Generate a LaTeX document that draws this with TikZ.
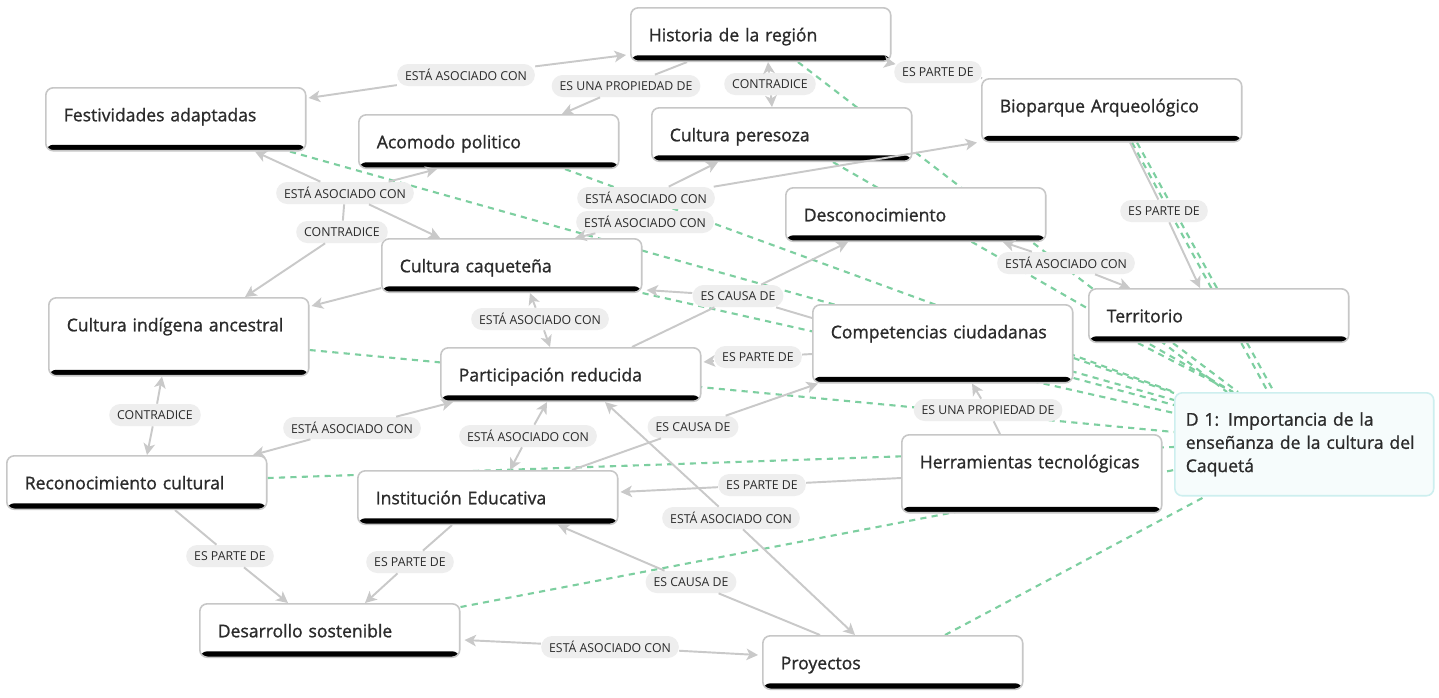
\documentclass[tikz,border=0pt]{standalone}
\usepackage{fontspec}
\setmainfont{Open Sans}
\newfontfamily\conceptfont{Open Sans}[FakeBold=1.1]
\usepackage{tikz}
\usetikzlibrary{positioning,arrows.meta,backgrounds}
\definecolor{linkgray}{HTML}{C9C9C9}
\definecolor{pillgray}{HTML}{EEEEEE}
\definecolor{hintgreen}{HTML}{7DCFA0}
\definecolor{inkgray}{HTML}{2B2B2B}
\definecolor{focusline}{HTML}{CDEFEF}
\definecolor{focusfill}{HTML}{F6FCFC}
\tikzset{
  basebox/.style={draw=black!22,line width=0.9pt,fill=white,rounded corners=0.15cm,anchor=north west,
    align=left,inner ysep=0pt,text=inkgray},
  concept/.style={basebox,text width=4.48cm,inner xsep=0.36cm,text height=0.67cm,text depth=0.4cm,
    font=\conceptfont\fontsize{10}{12}\selectfont,
    path picture={\fill[black] (path picture bounding box.south west) rectangle ([yshift=0.12cm]path picture bounding box.south east);}},
  midbox/.style={concept,text depth=0.59cm},
  tallbox/.style={concept,text depth=0.89cm},
  focus/.style={basebox,draw=focusline,fill=focusfill,text width=4.74cm,inner xsep=0.22cm,minimum height=2.06cm,
    font=\conceptfont\fontsize{10}{13.2}\selectfont},
  rel/.style={fill=pillgray,rounded corners=0.22cm,minimum height=0.44cm,inner xsep=0.16cm,inner ysep=0pt,
    font=\fontsize{7}{8}\selectfont,text=inkgray},
  link/.style={draw=linkgray,line width=1.1pt},
  linkto/.style={link,-{Stealth[length=2.3mm,width=2.3mm,inset=0.6mm]}},
  hint/.style={draw=hintgreen,line width=1.2pt,dash pattern=on 3.5pt off 3pt}
}
\begin{document}
\begin{tikzpicture}[x=0.02cm,y=-0.02cm]
\useasboundingbox (0,0) rectangle (1439,697);
\node[concept] (Historia) at (630,7) {Historia de la región};
\node[midbox] (Festividades) at (45,87) {Festividades adaptadas};
\node[concept] (Acomodo) at (358,114) {Acomodo politico};
\node[concept] (Peresoza) at (651,107) {Cultura peresoza};
\node[midbox] (Bioparque) at (981,78) {Bioparque Arqueológico};
\node[concept] (Desconocimiento) at (785,187) {Desconocimiento};
\node[concept] (Caquetena) at (381,238) {Cultura caqueteña};
\node[tallbox] (Indigena) at (48,297) {Cultura indígena ancestral};
\node[concept] (Territorio) at (1088,288) {Territorio};
\node[tallbox] (Competencias) at (812,304) {Competencias ciudadanas};
\node[concept] (Participacion) at (440,347) {Participación reducida};
\node[focus] (Importancia) at (1174,392) {D 1: Importancia de la\\enseñanza de la cultura del\\Caquetá};
\node[tallbox] (Herramientas) at (901,434) {Herramientas tecnológicas};
\node[concept] (Reconocimiento) at (6,455) {Reconocimiento cultural};
\node[concept] (Institucion) at (357,470) {Institución Educativa};
\node[concept] (Desarrollo) at (199,603) {Desarrollo sostenible};
\node[concept] (Proyectos) at (762,635) {Proyectos};

\node[rel] (asoc1) at (466,75) {ESTÁ ASOCIADO CON};
\node[rel] (prop1) at (626,86) {ES UNA PROPIEDAD DE};
\node[rel] (contra1) at (770,84) {CONTRADICE};
\node[rel] (parte1) at (938,72) {ES PARTE DE};
\node[rel] (asoc2) at (345,193) {ESTÁ ASOCIADO CON};
\node[rel] (contra2) at (342,232) {CONTRADICE};
\node[rel] (asoc3) at (646,198) {ESTÁ ASOCIADO CON};
\node[rel] (asoc4) at (645,222) {ESTÁ ASOCIADO CON};
\node[rel] (causa1) at (738,296) {ES CAUSA DE};
\node[rel] (asoc5) at (540,319) {ESTÁ ASOCIADO CON};
\node[rel] (parte2) at (758,357) {ES PARTE DE};
\node[rel] (prop2) at (988,410) {ES UNA PROPIEDAD DE};
\node[rel] (asoc6) at (352,428) {ESTÁ ASOCIADO CON};
\node[rel] (asoc7) at (528,436) {ESTÁ ASOCIADO CON};
\node[rel] (causa2) at (693,427) {ES CAUSA DE};
\node[rel] (asoc8) at (731,518) {ESTÁ ASOCIADO CON};
\node[rel] (parte3) at (762,485) {ES PARTE DE};
\node[rel] (causa3) at (691,582) {ES CAUSA DE};
\node[rel] (contra3) at (155,415) {CONTRADICE};
\node[rel] (parte4) at (230,556) {ES PARTE DE};
\node[rel] (parte5) at (410,562) {ES PARTE DE};
\node[rel] (asoc9) at (610,647) {ESTÁ ASOCIADO CON};
\node[rel] (parte6) at (1164,211) {ES PARTE DE};
\node[rel] (asoc10) at (1066,263) {ESTÁ ASOCIADO CON};

\draw[linkto] (asoc1) -- ([shift={(2,11)}]Festividades.north east);
\draw[linkto] (asoc1) -- ([shift={(-4,48)}]Historia.north west);
\draw[link] ([shift={(57,0)}]Historia.south west) -- (prop1);
\draw[linkto] (prop1) -- ([shift={(204,0)}]Acomodo.north west);
\draw[linkto] (contra1) -- ([shift={(138,0)}]Historia.south west);
\draw[linkto] (contra1) -- ([shift={(121,0)}]Peresoza.north west);
\draw[link] (Bioparque.north west) -- (parte1);
\draw[linkto] (parte1) -- ([shift={(4,2)}]Historia.south east);
\draw[linkto] (asoc2) -- ([shift={(210,0)}]Festividades.south west);
\draw[linkto] (asoc2) -- ([shift={(79,0)}]Acomodo.south west);
\draw[linkto] (asoc2) -- ([shift={(59,0)}]Caquetena.north west);
\draw[link] (asoc2) -- (contra2);
\draw[linkto] (contra2) -- ([shift={(197,0)}]Indigena.north west);
\draw[linkto] ([shift={(0,-5)}]Caquetena.south west) -- ([shift={(2,9)}]Indigena.north east);
\draw[linkto] (asoc3) -- ([shift={(67,0)}]Peresoza.south west);
\draw[linkto] (asoc3) -- ([shift={(-4,0)}]Bioparque.south west);
\draw[linkto] (asoc4) -- ([shift={(194,0)}]Caquetena.north west);
\draw[link] ([shift={(192,0)}]Participacion.north west) -- (causa1);
\draw[link] ([shift={(0,14)}]Competencias.north west) -- (causa1);
\draw[linkto] (causa1) -- ([shift={(4,-3)}]Caquetena.south east);
\draw[linkto] (causa1) -- ([shift={(63,0)}]Desconocimiento.south west);
\draw[linkto] (asoc5) -- ([shift={(149,0)}]Caquetena.south west);
\draw[linkto] (asoc5) -- ([shift={(110,0)}]Participacion.north west);
\draw[link] ([shift={(0,50)}]Competencias.north west) -- (parte2);
\draw[linkto] (parte2) -- ([shift={(2,15)}]Participacion.north east);
\draw[link] ([shift={(99,0)}]Herramientas.north west) -- (prop2);
\draw[linkto] (prop2) -- ([shift={(160,0)}]Competencias.south west);
\draw[linkto] (asoc6) -- ([shift={(13,0)}]Participacion.south west);
\draw[linkto] (asoc6) -- ([shift={(247,0)}]Reconocimiento.north west);
\draw[linkto] (asoc7) -- ([shift={(107,0)}]Participacion.south west);
\draw[linkto] (asoc7) -- ([shift={(153,0)}]Institucion.north west);
\draw[link] ([shift={(215,0)}]Institucion.north west) -- (causa2);
\draw[linkto] (causa2) -- ([shift={(6,0)}]Competencias.south west);
\draw[linkto] (asoc8) -- ([shift={(165,0)}]Participacion.south west);
\draw[linkto] (asoc8) -- ([shift={(93,0)}]Proyectos.north west);
\draw[link] ([shift={(0,44)}]Herramientas.north west) -- (parte3);
\draw[linkto] (parte3) -- ([shift={(2,22)}]Institucion.north east);
\draw[link] ([shift={(58,0)}]Proyectos.north west) -- (causa3);
\draw[linkto] (causa3) -- ([shift={(201,0)}]Institucion.south west);
\draw[linkto] (contra3) -- ([shift={(114,0)}]Indigena.south west);
\draw[linkto] (contra3) -- ([shift={(141,0)}]Reconocimiento.north west);
\draw[link] ([shift={(169,0)}]Reconocimiento.south west) -- (parte4);
\draw[linkto] (parte4) -- ([shift={(89,0)}]Desarrollo.north west);
\draw[link] ([shift={(95,0)}]Institucion.south west) -- (parte5);
\draw[linkto] (parte5) -- ([shift={(166,0)}]Desarrollo.north west);
\draw[linkto] (asoc9) -- ([shift={(4,37)}]Desarrollo.north east);
\draw[linkto] (asoc9) -- ([shift={(-4,20)}]Proyectos.north west);
\draw[link] ([shift={(149,0)}]Bioparque.south west) -- (parte6);
\draw[linkto] (parte6) -- ([shift={(112,0)}]Territorio.north west);
\draw[linkto] (asoc10) -- ([shift={(218,0)}]Desconocimiento.south west);
\draw[linkto] (asoc10) -- ([shift={(42,0)}]Territorio.north west);

\begin{scope}[on background layer]
\fill[white] (0,0) rectangle (1439,697);
\draw[hint] ([shift={(168,0)}]Historia.south west) -- ([shift={(53,0)}]Importancia.north west);
\draw[hint] ([shift={(182,0)}]Peresoza.south west) -- ([shift={(59,0)}]Importancia.north west);
\draw[hint] ([shift={(207,0)}]Acomodo.south west) -- (Importancia.north west);
\draw[hint] ([shift={(245,0)}]Festividades.south west) -- ([shift={(0,8)}]Importancia.north west);
\draw[hint] (Caquetena.south east) -- ([shift={(0,21)}]Importancia.north west);
\draw[hint] ([shift={(0,53)}]Indigena.north east) -- ([shift={(0,40)}]Importancia.north west);
\draw[hint] ([shift={(0,23)}]Reconocimiento.north east) -- ([shift={(0,55)}]Importancia.north west);
\draw[hint] ([shift={(0,4)}]Desarrollo.north east) -- ([shift={(0,78)}]Importancia.north west);
\draw[hint] ([shift={(183,0)}]Proyectos.north west) -- ([shift={(31,0)}]Importancia.south west);
\draw[hint] ([shift={(50,0)}]Territorio.south west) -- ([shift={(59,0)}]Importancia.north west);
\draw[hint] ([shift={(85,0)}]Territorio.south west) -- ([shift={(64,0)}]Importancia.north west);
\draw[hint] ([shift={(151,0)}]Bioparque.south west) -- ([shift={(94,0)}]Importancia.north west);
\draw[hint] ([shift={(156,0)}]Bioparque.south west) -- ([shift={(100,0)}]Importancia.north west);
\draw[hint] ([shift={(0,54)}]Competencias.north east) -- ([shift={(0,1)}]Importancia.north west);
\draw[hint] ([shift={(0,74)}]Competencias.north east) -- ([shift={(0,13)}]Importancia.north west);
\end{scope}
\end{tikzpicture}
\end{document}
